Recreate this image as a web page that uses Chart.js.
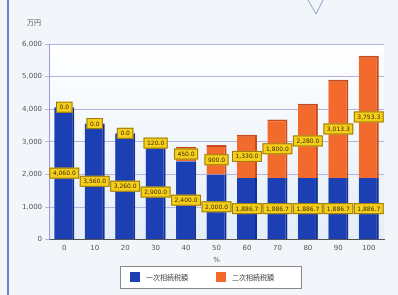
<!DOCTYPE html>
<html>
<head>
<meta charset="utf-8">
<script src="https://cdn.jsdelivr.net/npm/chart.js@4/dist/chart.umd.min.js"></script>
<style>
  html, body { margin: 0; padding: 0; background: #f2f6fb; }
  #wrap { position: relative; width: 398px; height: 295px; }
</style>
</head>
<body>
<div id="wrap"><canvas id="taxChart" width="398" height="295"></canvas></div>
<script>
// spouse share (%)
const shares = ['0', '10', '20', '30', '40', '50', '60', '70', '80', '90', '100'];
// 一次相続税額 (万円)
const firstTax = [4060.0, 3560.0, 3260.0, 2900.0, 2400.0, 2000.0, 1886.7, 1886.7, 1886.7, 1886.7, 1886.7];
// 二次相続税額 (万円)
const secondTax = [0.0, 0.0, 0.0, 120.0, 450.0, 900.0, 1330.0, 1800.0, 2280.0, 3013.3, 3753.3];
const yTicks = [0, 1000, 2000, 3000, 4000, 5000, 6000];
const seriesNames = ['一次相続税額', '二次相続税額'];
const seriesColors = ['#1c3fb4', '#f26b2c'];

const fmt = v => v.toLocaleString('en-US', { minimumFractionDigits: 1, maximumFractionDigits: 1 });

// yellow value boxes in the middle of each segment
const valueBoxes = {
    id: 'valueBoxes',
    afterDatasetsDraw(chart) {
        const ctx = chart.ctx;
        ctx.save();
        ctx.font = '6px "DejaVu Sans"';
        ctx.textAlign = 'center';
        ctx.textBaseline = 'middle';
        chart.data.datasets.forEach((ds, i) => {
            chart.getDatasetMeta(i).data.forEach((bar, j) => {
                const txt = fmt(ds.data[j]);
                const y = (bar.y + bar.base) / 2;
                const w = ctx.measureText(txt).width + 7;
                const h = 11;
                ctx.fillStyle = '#f6cf1c';
                ctx.strokeStyle = '#9a7a10';
                ctx.lineWidth = 1;
                ctx.fillRect(bar.x - w / 2, y - h / 2, w, h);
                ctx.strokeRect(bar.x - w / 2 + 0.5, y - h / 2 + 0.5, w - 1, h - 1);
                ctx.fillStyle = '#3a2a00';
                ctx.fillText(txt, bar.x, y + 0.5);
            });
        });
        ctx.restore();
    }
};

// plot background, unit labels, legend and page decoration
const extras = {
    id: 'extras',
    beforeDraw(chart) {
        const ctx = chart.ctx;
        const a = chart.chartArea;
        ctx.save();
        const g = ctx.createLinearGradient(0, a.top, 0, a.bottom);
        g.addColorStop(0, '#ffffff');
        g.addColorStop(1, '#e4eef8');
        ctx.fillStyle = g;
        ctx.fillRect(a.left, a.top, a.right - a.left, a.bottom - a.top);
        ctx.restore();
    },
    afterDraw(chart) {
        const ctx = chart.ctx;
        const a = chart.chartArea;
        ctx.save();
        ctx.fillStyle = '#555';
        ctx.font = '7px "Noto Sans CJK JP"';
        ctx.textAlign = 'left';
        ctx.textBaseline = 'alphabetic';
        ctx.fillText('万円', 27, 25);
        ctx.textAlign = 'center';
        ctx.font = '7px "DejaVu Sans"';
        ctx.fillText('%', (a.left + a.right) / 2, 262);
        // legend
        const lx = 120, ly = 266, lw = 182, lh = 23;
        ctx.fillStyle = '#ffffff';
        ctx.fillRect(lx, ly, lw, lh);
        ctx.strokeStyle = '#888';
        ctx.lineWidth = 1;
        ctx.strokeRect(lx + 0.5, ly + 0.5, lw - 1, lh - 1);
        ctx.textAlign = 'left';
        ctx.textBaseline = 'middle';
        ctx.font = '7px "Noto Sans CJK JP"';
        seriesNames.forEach((name, i) => {
            const x = lx + 10 + i * 86;
            ctx.fillStyle = seriesColors[i];
            ctx.fillRect(x, ly + 6, 10, 10);
            ctx.fillStyle = '#444';
            ctx.fillText(name, x + 16, ly + 11);
        });
        // page border line and pointer
        ctx.strokeStyle = '#3b5bd0';
        ctx.lineWidth = 1.5;
        ctx.beginPath();
        ctx.moveTo(8, 0);
        ctx.lineTo(8, 295);
        ctx.stroke();
        ctx.strokeStyle = '#8aa0c8';
        ctx.lineWidth = 1;
        ctx.beginPath();
        ctx.moveTo(308, 0);
        ctx.lineTo(316, 14);
        ctx.lineTo(323, 0);
        ctx.stroke();
        ctx.restore();
    }
};

new Chart(document.getElementById('taxChart'), {
    type: 'bar',
    data: {
        labels: shares,
        datasets: [
            {
                label: seriesNames[0],
                data: firstTax,
                backgroundColor: seriesColors[0],
                borderColor: '#142e8a',
                borderWidth: { right: 2 },
                barPercentage: 0.66,
                categoryPercentage: 1.0
            },
            {
                label: seriesNames[1],
                data: secondTax,
                backgroundColor: seriesColors[1],
                borderColor: '#c84a1a',
                borderWidth: { right: 2, top: 2 },
                barPercentage: 0.66,
                categoryPercentage: 1.0
            }
        ]
    },
    options: {
        responsive: false,
        animation: false,
        devicePixelRatio: 1,
        layout: { padding: { left: 19, right: 14, top: 44, bottom: 39 } },
        plugins: {
            legend: { display: false },
            tooltip: { enabled: false }
        },
        scales: {
            x: {
                stacked: true,
                grid: { display: false, tickLength: 0 },
                border: { color: '#555', width: 1 },
                ticks: { color: '#555', font: { size: 7, family: '"DejaVu Sans"' }, padding: 4 }
            },
            y: {
                stacked: true,
                min: 0,
                max: 6000,
                afterBuildTicks: axis => { axis.ticks = yTicks.map(v => ({ value: v })); },
                grid: { color: '#b4b4e4', lineWidth: 1, tickLength: 4 },
                border: { color: '#9a9ad8' },
                ticks: {
                    color: '#555',
                    font: { size: 7, family: '"DejaVu Sans"' },
                    padding: 3,
                    callback: v => v.toLocaleString('en-US')
                }
            }
        }
    },
    plugins: [valueBoxes, extras]
});
</script>
</body>
</html>
